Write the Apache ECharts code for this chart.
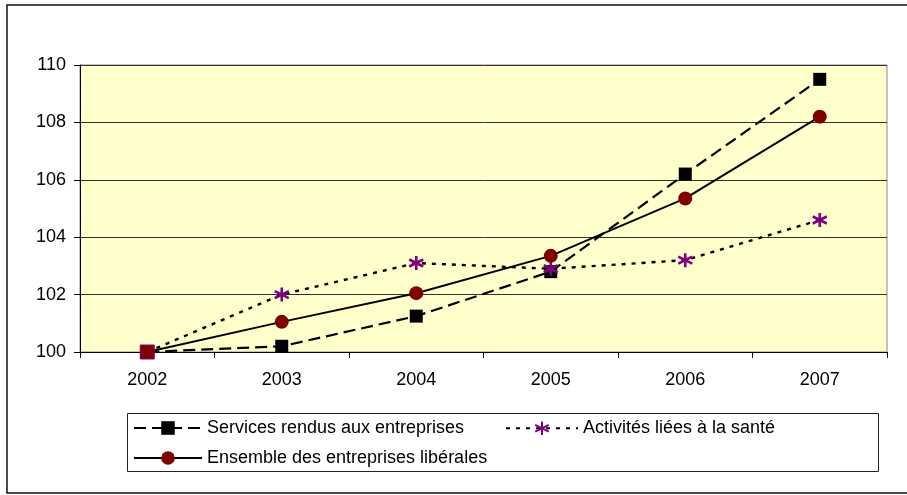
<!DOCTYPE html>
<html>
<head>
<meta charset="utf-8">
<script src="https://cdn.jsdelivr.net/npm/echarts@6/dist/echarts.min.js"></script>
<style>
  html, body { margin: 0; padding: 0; background: #fff; }
  #chart { width: 907px; height: 495px; }
</style>
</head>
<body>
<div id="chart"></div>
<script>
// années
const years = ['2002', '2003', '2004', '2005', '2006', '2007']
// indices base 100 en 2002
const services = [100, 100.2, 101.25, 102.8, 106.2, 109.5]
const sante = [100, 102.0, 103.1, 102.9, 103.2, 104.6]
const ensemble = [100, 101.05, 102.05, 103.35, 105.35, 108.2]
const seriesNames = ['Services rendus aux entreprises', 'Activités liées à la santé', 'Ensemble des entreprises libérales']

const font = '"Liberation Sans", Arial, sans-serif'
const asterisk = 'path://M5,0 L5,10 M0.7,2.5 L9.3,7.5 M9.3,2.5 L0.7,7.5'

const chart = echarts.init(document.getElementById('chart'), null, { renderer: 'canvas' })

// légende : un composant par entrée pour placer chaque entrée
const legendItem = (name, left, top, width) => ({
    data: [name],
    left: left,
    top: top,
    padding: 0,
    itemWidth: width,
    itemHeight: 17,
    selectedMode: false,
    textStyle: { fontFamily: font, fontSize: 18, color: '#000' }
})

const option = {
    animation: false,
    backgroundColor: '#fff',
    grid: {
        left: 80,
        top: 65,
        right: 20,
        bottom: 143,
        show: true,
        backgroundColor: '#FFFFCC',
        borderColor: '#888',
        borderWidth: 1,
        outerBoundsMode: 'none'
    },
    xAxis: {
        type: 'category',
        data: years,
        boundaryGap: true,
        axisLine: { lineStyle: { color: '#000', width: 1 } },
        axisTick: { show: true, length: 6, lineStyle: { color: '#000' } },
        axisLabel: { fontFamily: font, fontSize: 18, color: '#000', margin: 19 }
    },
    yAxis: {
        type: 'value',
        min: 100,
        max: 110,
        interval: 2,
        axisLine: { show: true, lineStyle: { color: '#000', width: 1 } },
        axisTick: { show: true, length: 6, lineStyle: { color: '#000' } },
        axisLabel: { fontFamily: font, fontSize: 18, color: '#000', margin: 14 },
        splitLine: { lineStyle: { color: '#333', width: 1 } }
    },
    legend: [
        legendItem(seriesNames[0], 133, 419, 68),
        legendItem(seriesNames[1], 505, 419, 72),
        legendItem(seriesNames[2], 133, 449, 68)
    ],
    graphic: [
        {
            type: 'rect',
            shape: { x: 7, y: 5, width: 930, height: 488 },
            style: { fill: 'none', stroke: '#111', lineWidth: 1.5 },
            silent: true,
            z: -1
        },
        {
            type: 'rect',
            shape: { x: 127.5, y: 413.5, width: 751, height: 58 },
            style: { fill: 'none', stroke: '#222', lineWidth: 1 },
            silent: true
        }
    ],
    series: [
        {
            name: seriesNames[0],
            type: 'line',
            data: services,
            symbol: 'rect',
            symbolSize: 13,
            lineStyle: { color: '#000', width: 2.2, type: [12, 6] },
            itemStyle: { color: '#000', borderWidth: 0 }
        },
        {
            name: seriesNames[1],
            type: 'line',
            data: sante,
            symbol: asterisk,
            symbolSize: 14,
            lineStyle: { color: '#000', width: 2.4, type: [4, 6] },
            itemStyle: { color: 'none', borderColor: '#800080', borderWidth: 2.6 }
        },
        {
            name: seriesNames[2],
            type: 'line',
            data: ensemble.map((v, i) => i === 0
                ? { value: v, symbol: 'rect', itemStyle: { borderColor: '#800080', borderWidth: 1 } }
                : v),
            symbol: 'circle',
            symbolSize: 14,
            lineStyle: { color: '#000', width: 2 },
            itemStyle: { color: '#800000', borderWidth: 0 }
        }
    ]
}
chart.setOption(option)
</script>
</body>
</html>
